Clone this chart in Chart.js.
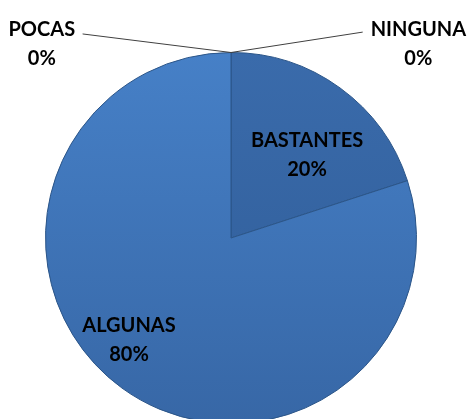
<!DOCTYPE html>
<html>
<head>
<meta charset="utf-8">
<script src="https://cdn.jsdelivr.net/npm/chart.js@4"></script>
<style>
  html, body { margin: 0; padding: 0; background: #fff; overflow: hidden; }
  #wrap { width: 470px; height: 419px; overflow: hidden; }
</style>
</head>
<body>
<div id="wrap"><canvas id="pieChart" width="470" height="428"></canvas></div>
<script>
// data
var labels = ["BASTANTES", "ALGUNAS", "POCAS", "NINGUNA"];
var values = [20, 80, 0, 0];
var topColors = ["#3A6BAB", "#4680C7", "#4680C7", "#3A6BAB"];
var bottomColors = ["#2F5C97", "#3767A6", "#3767A6", "#2F5C97"];

// where each label sits, in radius units from the pie centre
var labelSpots = [
  { dx: 0.41, dy: -0.45 },
  { dx: -0.55, dy: 0.55 },
  { dx: -1.02, dy: -1.05, line: { x: -0.80, y: -1.10 } },
  { dx: 1.01, dy: -1.05, line: { x: 0.71, y: -1.11 } }
];

function sliceFill(context) {
  var chart = context.chart;
  var area = chart.chartArea;
  var i = context.dataIndex;
  if (!area) return topColors[i];
  var g = chart.ctx.createLinearGradient(0, area.top, 0, area.bottom);
  g.addColorStop(0, topColors[i]);
  g.addColorStop(1, bottomColors[i]);
  return g;
}

var dataLabels = {
  id: "dataLabels",
  afterDatasetsDraw: function (chart) {
    var ctx = chart.ctx;
    var meta = chart.getDatasetMeta(0);
    var arc = meta.data[0];
    var cx = arc.x, cy = arc.y, r = arc.outerRadius;
    var total = values.reduce(function (a, b) { return a + b; }, 0);
    ctx.save();
    ctx.font = "bold 20px Lato, 'Open Sans', sans-serif";
    ctx.fillStyle = "#000";
    ctx.textAlign = "center";
    ctx.textBaseline = "middle";
    for (var i = 0; i < labels.length; i++) {
      var s = labelSpots[i];
      var x = cx + s.dx * r, y = cy + s.dy * r;
      if (s.line) {
        ctx.strokeStyle = "#404040";
        ctx.lineWidth = 1;
        ctx.beginPath();
        ctx.moveTo(cx, cy - r);
        ctx.lineTo(cx + s.line.x * r, cy + s.line.y * r);
        ctx.stroke();
      }
      var pct = Math.round(values[i] / total * 100) + "%";
      ctx.fillText(labels[i], x, y - 14);
      ctx.fillText(pct, x, y + 15);
    }
    ctx.restore();
  }
};

new Chart(document.getElementById("pieChart"), {
  type: "pie",
  data: {
    labels: labels,
    datasets: [{
      data: values,
      backgroundColor: sliceFill,
      borderColor: "#2B5588",
      borderWidth: 1
    }]
  },
  options: {
    responsive: false,
    animation: false,
    layout: { padding: { top: 52, bottom: 4, left: 0, right: 8 } },
    plugins: {
      legend: { display: false },
      tooltip: { enabled: false },
      title: { display: false }
    }
  },
  plugins: [dataLabels]
});
</script>
</body>
</html>
